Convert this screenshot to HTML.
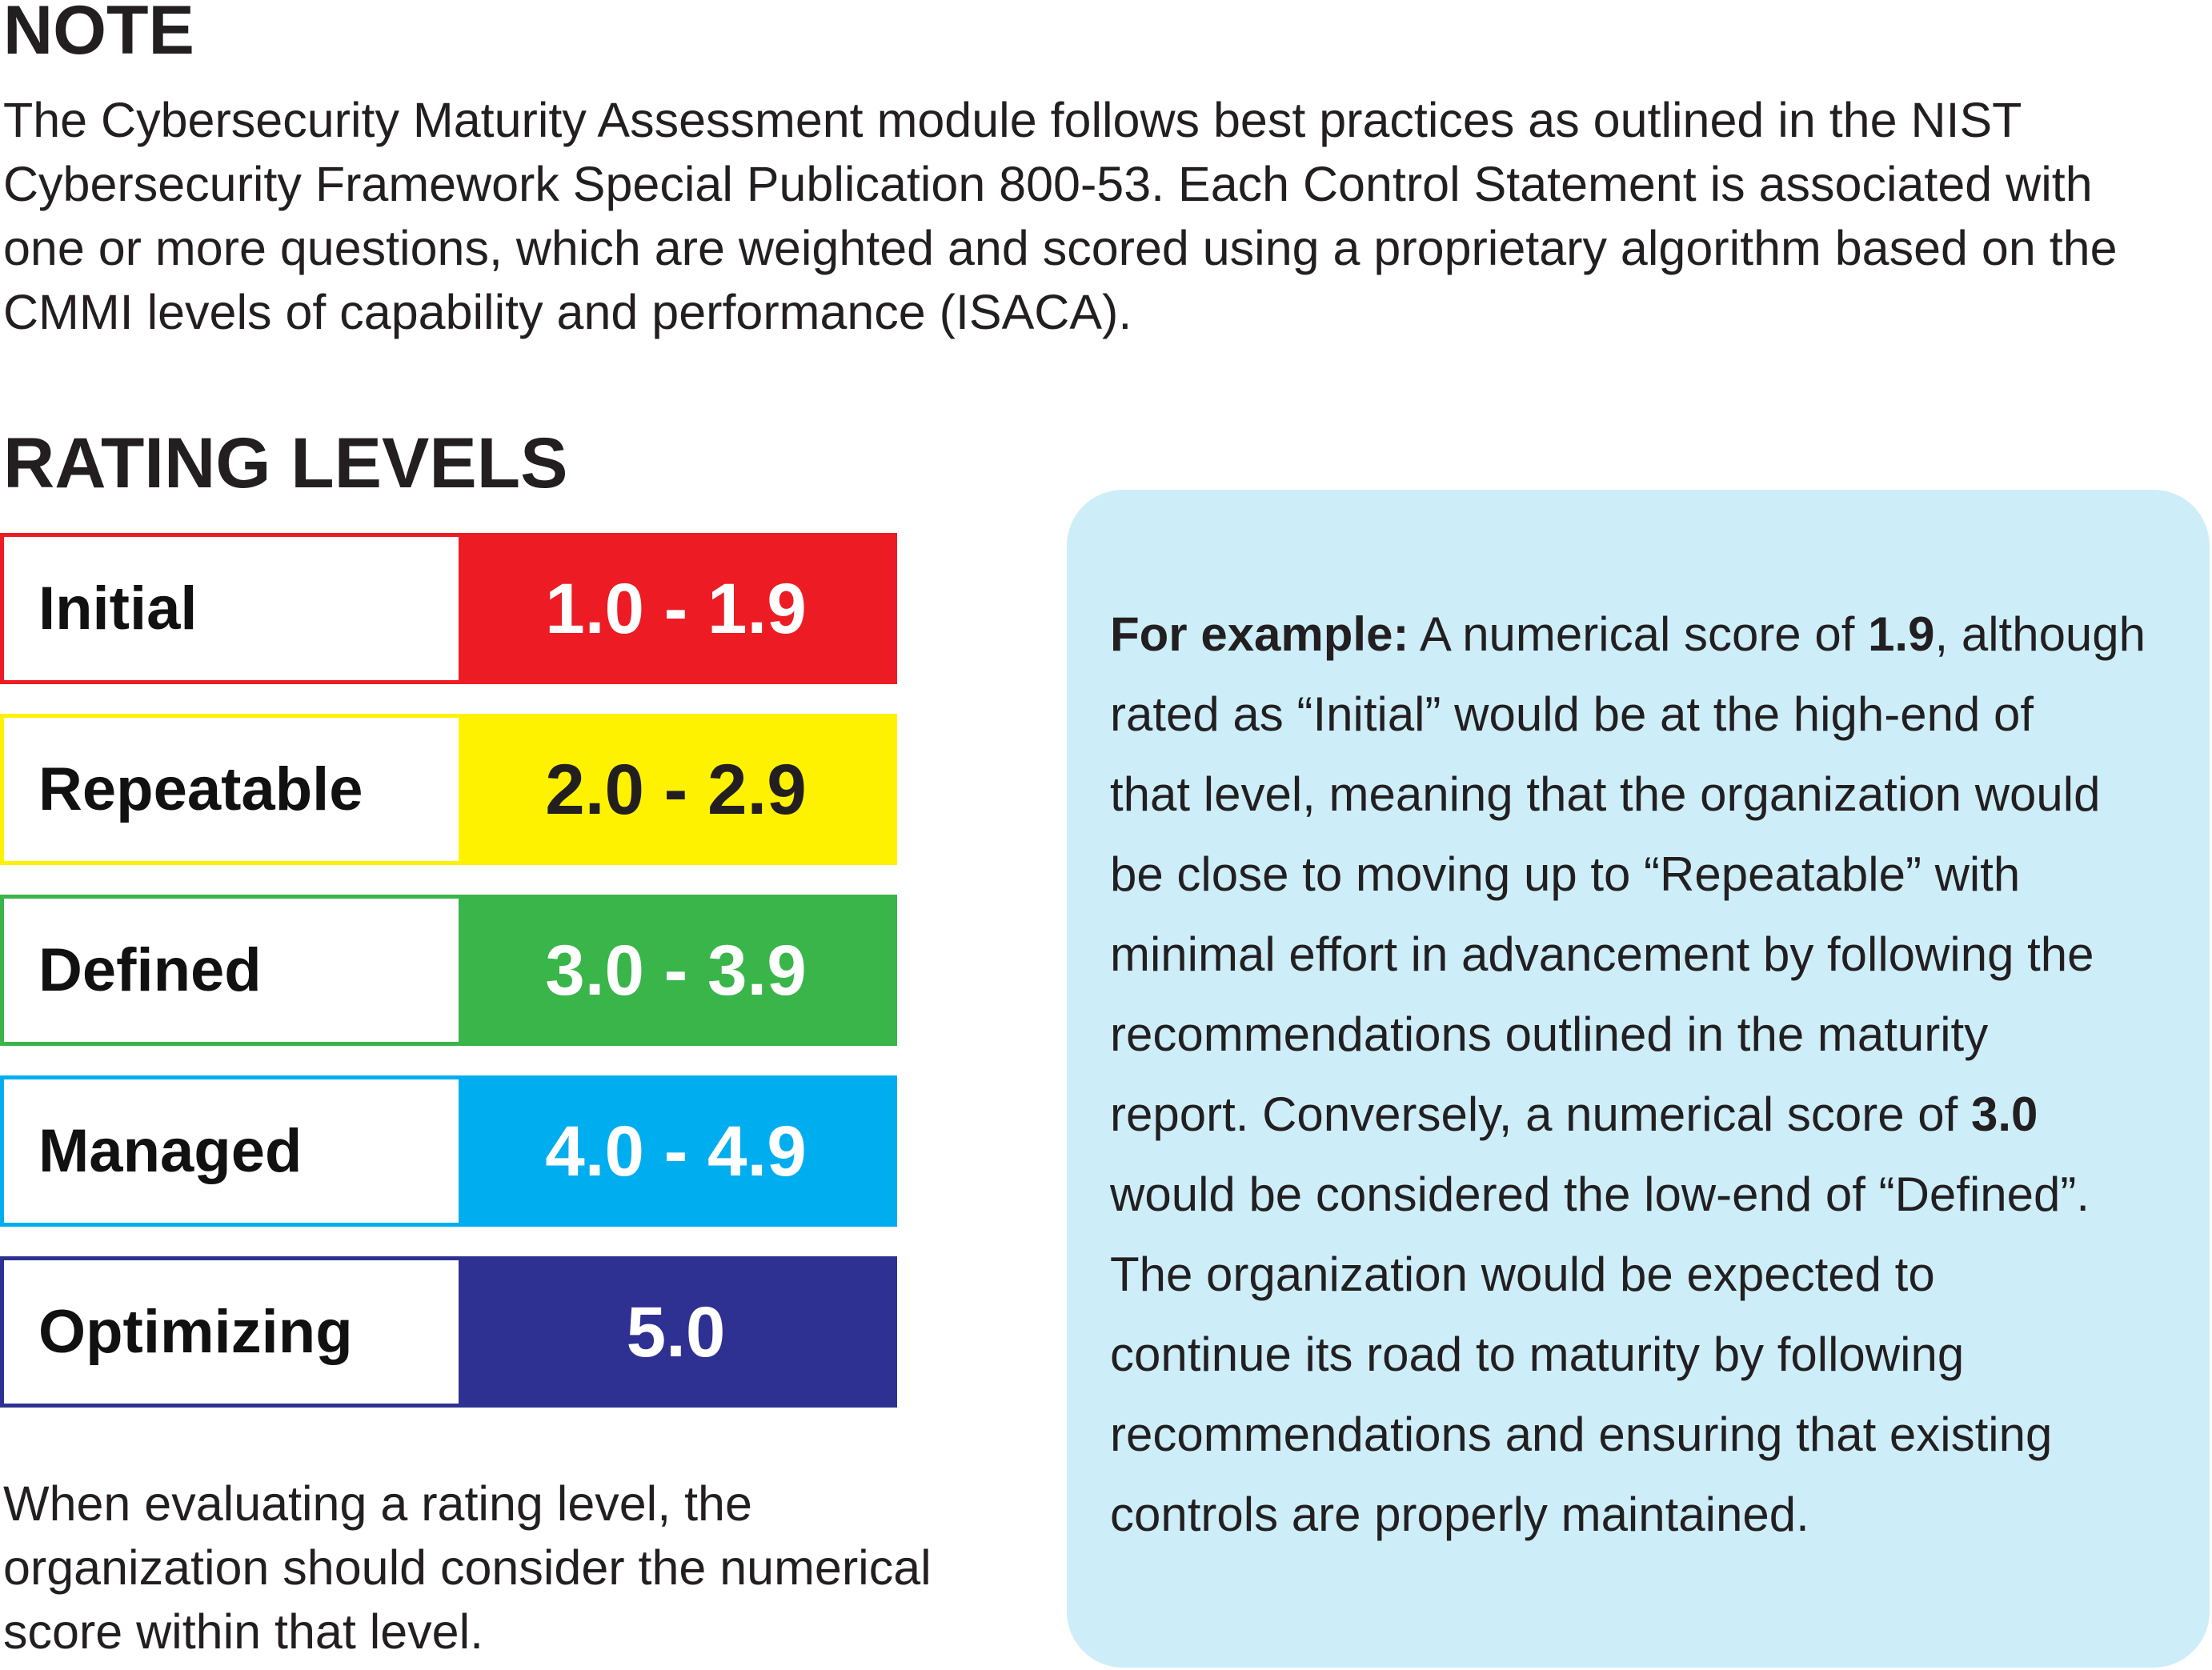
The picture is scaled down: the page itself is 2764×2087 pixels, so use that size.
<!DOCTYPE html>
<html><head><meta charset="utf-8"><style>
body{margin:0;width:2764px;height:2087px;background:#fff;position:relative;overflow:hidden;font-family:"Liberation Sans",sans-serif;color:#231f20}
.a{position:absolute;white-space:nowrap}
.p{font-size:61px;line-height:80px;left:4px}
.row{position:absolute;left:0;width:1121px;height:189px;box-sizing:border-box;border:5px solid;background:#fff}
.row .lab{position:absolute;left:43px;top:0;line-height:179px;font-size:76px;font-weight:bold;color:#111}
.row .val{position:absolute;left:568px;right:0;top:0;bottom:0;text-align:center;line-height:179px;font-size:89px;font-weight:bold}
.box{position:absolute;left:1333px;top:612px;width:1428px;height:1472px;background:#cdeef9;border-radius:70px}
.b{font-size:60px;left:1387px;line-height:100px}
</style></head><body>
<div class="a" style="left:4px;top:-12px;font-size:86px;font-weight:bold;line-height:100px">NOTE</div>
<div class="a p" style="top:110px">The Cybersecurity Maturity Assessment module follows best practices as outlined in the NIST<br>Cybersecurity Framework Special Publication 800-53. Each Control Statement is associated with<br>one or more questions, which are weighted and scored using a proprietary algorithm based on the<br>CMMI levels of capability and performance (ISACA).</div>
<div class="a" style="left:4px;top:523px;font-size:89px;font-weight:bold;line-height:110px">RATING LEVELS</div>
<div class="row" style="top:666px;border-color:#ed1c24"><div class="lab">Initial</div><div class="val" style="background:#ed1c24;color:#fff">1.0 - 1.9</div></div>
<div class="row" style="top:892px;border-color:#fff200"><div class="lab">Repeatable</div><div class="val" style="background:#fff200;color:#231f20">2.0 - 2.9</div></div>
<div class="row" style="top:1118px;border-color:#39b54a"><div class="lab">Defined</div><div class="val" style="background:#39b54a;color:#fff">3.0 - 3.9</div></div>
<div class="row" style="top:1344px;border-color:#00aeef"><div class="lab">Managed</div><div class="val" style="background:#00aeef;color:#fff">4.0 - 4.9</div></div>
<div class="row" style="top:1570px;border-color:#2e3192"><div class="lab">Optimizing</div><div class="val" style="background:#2e3192;color:#fff">5.0</div></div>
<div class="a p" style="top:1839px">When evaluating a rating level, the<br>organization should consider the numerical<br>score within that level.</div>
<div class="box"></div>
<div class="a b" style="top:743px"><b>For example:</b> A numerical score of <b>1.9</b>, although<br>rated as “Initial” would be at the high-end of<br>that level, meaning that the organization would<br>be close to moving up to “Repeatable” with<br>minimal effort in advancement by following the<br>recommendations outlined in the maturity<br>report. Conversely, a numerical score of <b>3.0</b><br>would be considered the low-end of “Defined”.<br>The organization would be expected to<br>continue its road to maturity by following<br>recommendations and ensuring that existing<br>controls are properly maintained.</div>
</body></html>
